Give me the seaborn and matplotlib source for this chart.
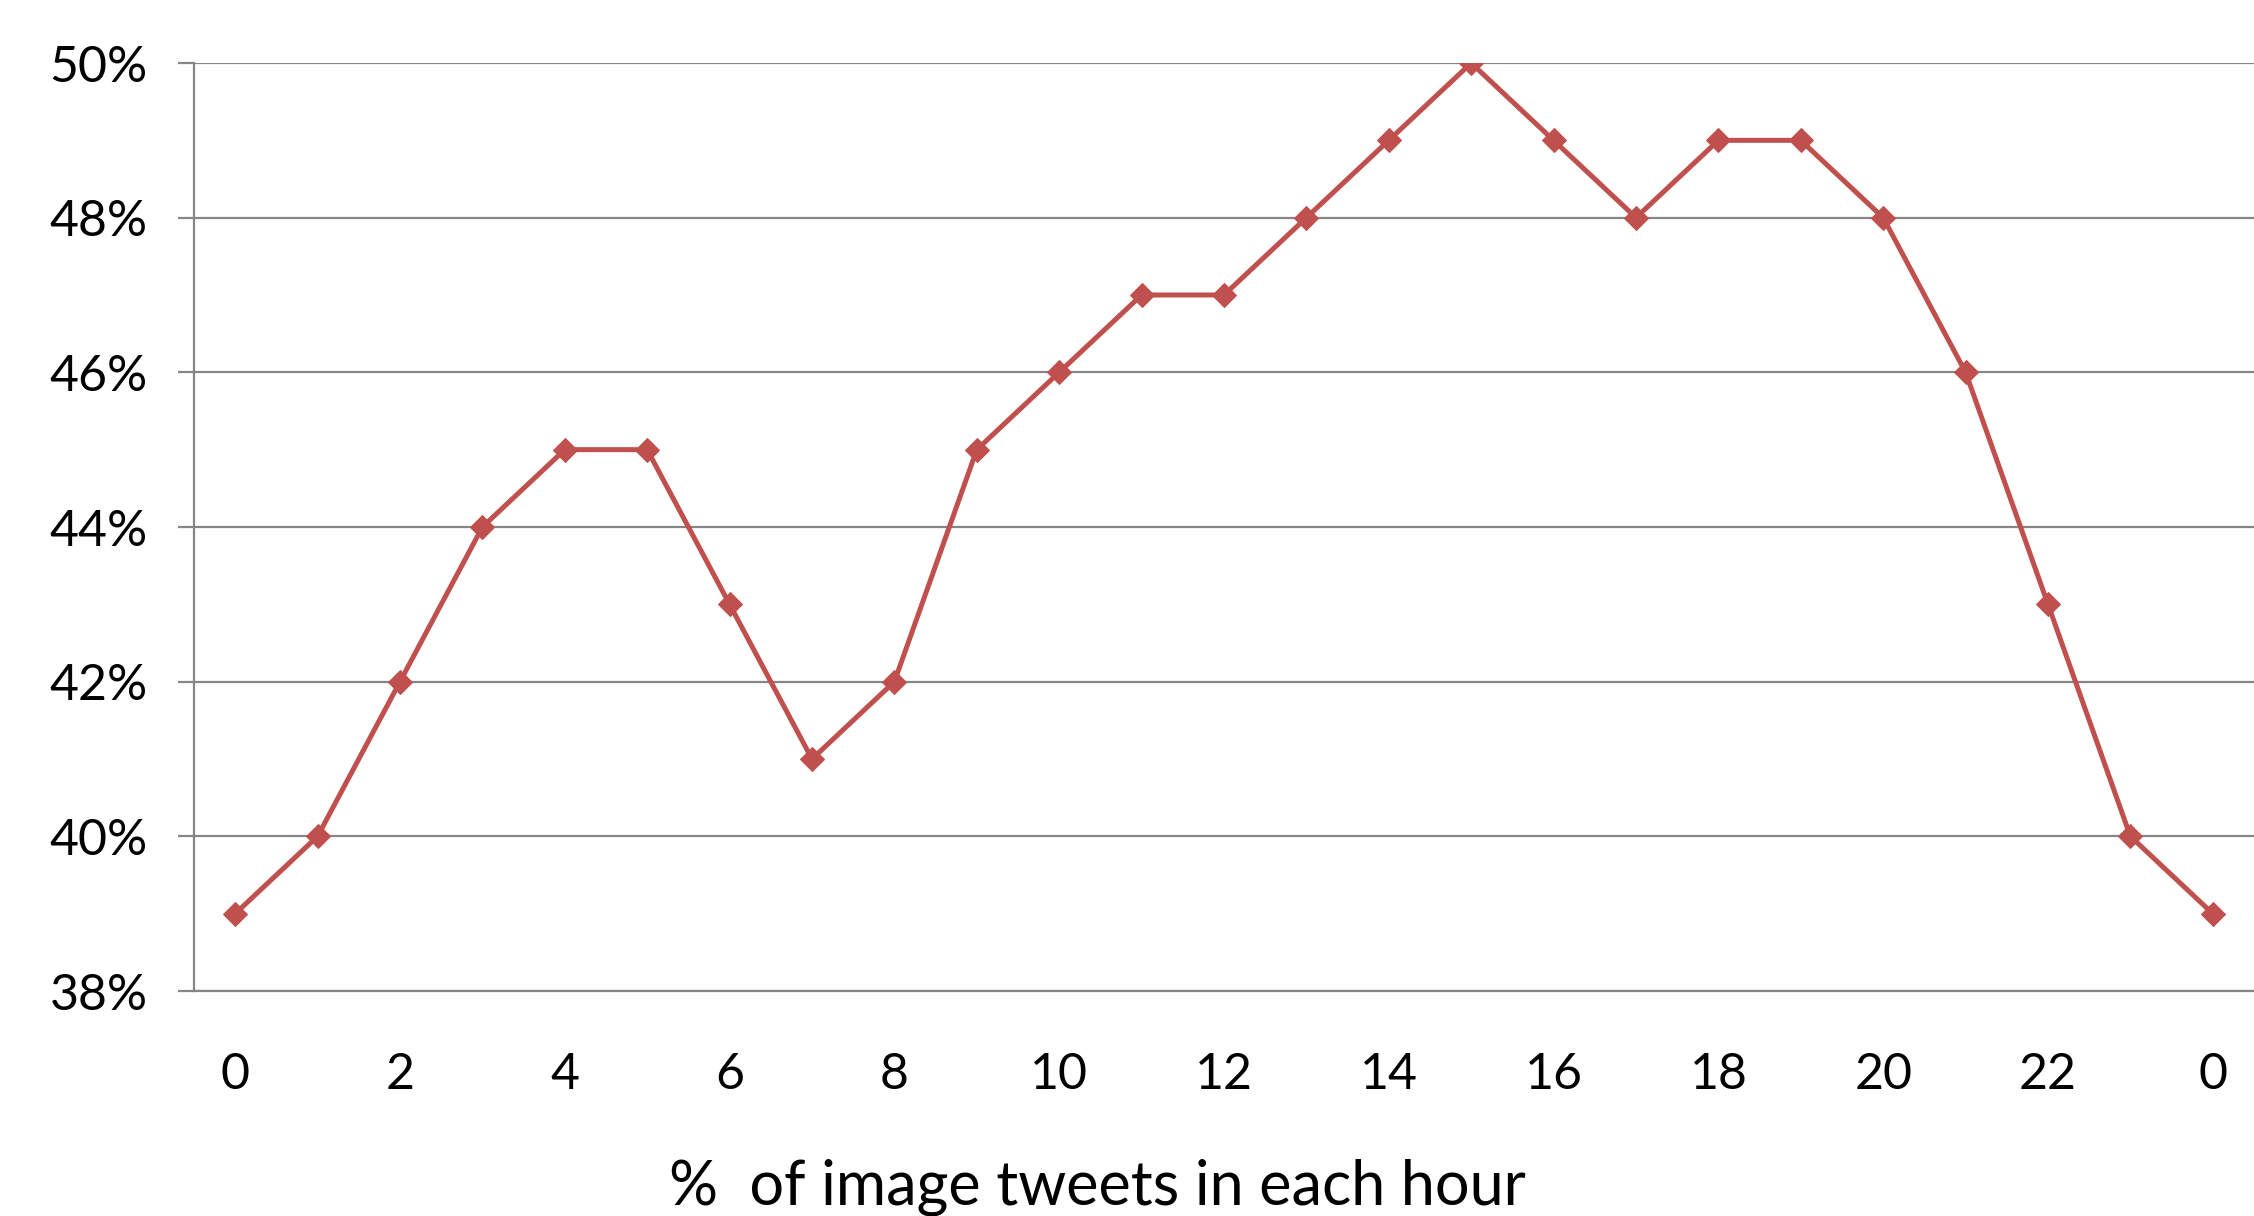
import numpy as np
import matplotlib
matplotlib.use('Agg')
import matplotlib.pyplot as plt
import seaborn as sns

# Data
hour_labels = ['0', '1', '2', '3', '4', '5', '6', '7', '8', '9', '10', '11', '12',
               '13', '14', '15', '16', '17', '18', '19', '20', '21', '22', '23', '0']
image_pct = [39, 40, 42, 44, 45, 45, 43, 41, 42, 45, 46, 47, 47,
             48, 49, 50, 49, 48, 49, 49, 48, 46, 43, 40, 39]
y_ticks = [38, 40, 42, 44, 46, 48, 50]

sns.set_style('white')
plt.rcParams['font.family'] = ['Lato', 'DejaVu Sans']

fig = plt.figure(figsize=(22.54, 12.16), dpi=100)
ax = fig.add_axes([194 / 2254, 1 - 991 / 1216, 2060 / 2254, (991 - 63) / 1216])

pos = np.arange(len(image_pct))
sns.lineplot(x=pos, y=image_pct, ax=ax, color='#C0504D', linewidth=3.6,
             marker='D', markersize=12, markeredgecolor='#C0504D', zorder=3)

ax.set_xlim(-0.5, len(image_pct) - 0.5)
ax.set_ylim(38, 50)
ax.set_yticks(y_ticks)
ax.set_yticklabels([f'{v}%' for v in y_ticks])
ax.set_xticks(pos[::2])
ax.set_xticklabels(hour_labels[::2])

ax.grid(axis='y', color='#868686', linewidth=1.6)
ax.grid(axis='x', visible=False)
ax.set_axisbelow(True)
for s in ['top', 'right']:
    ax.spines[s].set_visible(False)
for s in ['left', 'bottom']:
    ax.spines[s].set_color('#868686')
    ax.spines[s].set_linewidth(1.6)

ax.tick_params(axis='y', length=11.5, width=1.6, color='#868686', pad=22,
               labelsize=36, labelcolor='black', left=True)
ax.tick_params(axis='x', length=0, pad=44, labelsize=36, labelcolor='black')

# x label sits low, near the bottom edge as in the original
ax.set_xlabel('%  of image tweets in each hour', fontsize=44, color='black')
ax.xaxis.set_label_coords((1097 - 194) / 2060, -0.18)
ax.xaxis.label.set_va('top')

fig.savefig('out.png', dpi=100)
